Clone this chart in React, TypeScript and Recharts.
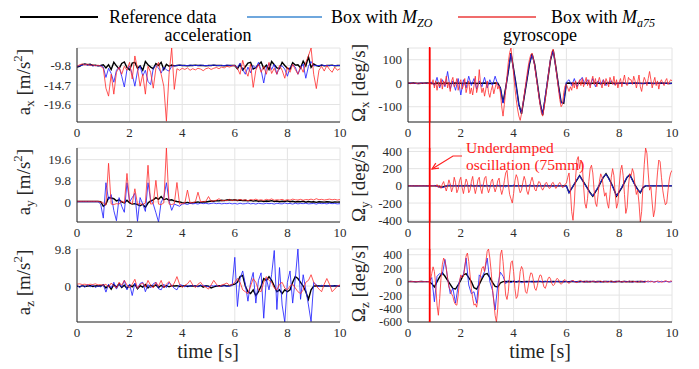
import { CartesianGrid, Line, LineChart, ReferenceLine, XAxis, YAxis } from "recharts";

// sample steps (s)
const DT = 0.1;
const DT_FINE = 0.05;
const X_TICKS = [0, 2, 4, 6, 8, 10];

// ---- acceleration x [m/s^2], dt 0.1
const axRef = [
  -10.2, -10.0, -9.6, -9.4, -9.6, -9.5, -9.8, -9.7, -9.9, -9.8, -9.6,
  -10.4, -9.6, -10.8, -9.0, -9.9, -10.6, -9.3, -8.9, -10.3, -10.9, -9.2, -9.0, -10.5, -9.9, -11.0, -8.8, -9.6, -10.2,
  -10.6, -9.3, -9.8, -9.0, -10.8, -9.5, -10.0, -9.7, -9.9,
  -9.8, -9.7, -9.8, -9.8, -9.9, -9.8, -9.8, -9.7, -9.8, -9.8, -9.8, -9.9, -9.8, -9.8, -9.7, -9.8, -9.8, -9.8, -9.9, -9.8, -9.8, -9.8,
  -9.8, -10.6, -9.5, -10.9, -10.1, -9.2, -9.0, -10.7, -10.3, -9.6, -8.9, -10.5, -9.7, -10.8, -8.8, -9.6, -10.4, -10.6, -9.0, -9.8,
  -10.5, -10.7, -9.1, -9.7, -9.6, -10.4, -8.7, -9.9, -7.6, -10.3, -9.4, -9.8, -10.0, -9.7, -9.9, -9.8, -9.8, -9.7, -9.9, -9.8, -9.8,
];
const axZo = [
  -10.0, -9.9, -9.7, -9.5, -9.7, -9.6, -9.9, -9.8, -9.9, -9.8, -10.2,
  -12.8, -10.5, -11.8, -14.0, -11.0, -10.2, -12.5, -15.2, -10.8, -9.9, -12.0, -15.0, -11.2, -10.0, -12.4, -11.0, -13.8, -14.6,
  -10.5, -9.8, -10.4, -11.7, -10.2, -10.9, -11.2, -10.0, -9.9,
  -9.8, -9.7, -9.8, -9.8, -9.8, -9.7, -9.8, -9.8, -9.8, -9.7, -9.8, -9.8, -9.8, -9.8, -9.7, -9.8, -9.8, -9.8, -9.8, -9.7, -9.8, -9.8,
  -9.8, -10.3, -9.2, -10.8, -12.0, -10.2, -11.6, -9.8, -10.5, -9.0, -11.0, -14.2, -10.4, -9.3, -10.8, -9.5, -12.0, -10.1, -9.9, -10.7,
  -12.5, -10.3, -9.6, -10.2, -12.0, -10.5, -9.4, -13.0, -10.0, -8.8, -9.9, -9.8, -9.8, -9.7, -9.8, -9.8, -9.8, -9.8, -9.8, -9.8, -9.8,
];
const axA75 = [
  -10.0, -9.6, -9.4, -9.7, -9.5, -9.8, -9.6, -9.9, -9.7, -10.0, -10.5,
  -15.5, -17.5, -12.0, -17.0, -11.5, -10.2, -12.0, -10.0, -11.0, -9.0, -13.2, -7.4, -10.5, -15.0, -12.0, -17.0, -10.0, -11.5,
  -15.5, -10.5, -9.0, -12.0, -15.0, -23.8, -12.0, -5.4, -15.8, -10.6, -11.0, -10.5,
  -10.8, -10.4, -11.0, -10.6, -10.9, -10.5, -10.7, -11.1, -10.6, -10.4, -10.8, -10.5, -10.3, -10.6, -10.2, -10.4, -10.0, -10.2, -9.9,
  -9.8, -10.5, -12.0, -8.5, -11.0, -12.5, -9.5, -15.3, -11.0, -9.5, -11.5, -10.0, -12.0, -9.0, -11.8, -10.5, -12.0, -9.8, -11.0, -13.0,
  -10.2, -11.5, -9.5, -10.8, -12.0, -10.0, -11.5, -9.0, -7.4, -5.4, -12.0, -15.6, -11.0, -10.0, -11.2, -9.8, -10.8, -11.5, -10.2, -11.0, -10.6,
];

// ---- acceleration y
const ayRef = [
  0.2, 0.2, 0.2, 0.2, 0.2, 0.2, 0.2, 0.2, 0.2, 0.1,
  -2.0, -1.0, 2.0, 1.8, 1.5, 0.5, 1.0, 0.0, -0.5, 0.8, -0.5, -1.0, -0.8, -1.2, -1.8, -1.0, -2.5, -0.5, 0.5, 1.0,
  2.0, 1.2, 2.5, 1.0, 1.5, 0.8, 1.0, 0.5, 0.2, 0.0,
  -0.3, -0.5, -0.2, -0.6, -0.4, -0.2, 0.0, -0.3, 0.1, 0.0, 0.2, 0.4, 0.3, 0.6, 0.5, 0.8, 0.6, 0.9, 1.0, 0.8,
  1.0, 0.7, 0.9, 0.6, 0.8, 0.5, 0.7, 0.4, 0.6, 0.3, 0.5, 0.2, 0.4, 0.3, 0.6, 0.2, 0.4, 0.1, 0.3, 0.2,
  0.5, 0.1, 0.3, 0.0, 0.2, 0.1, 0.3, -0.1, 0.2, 0.0, 0.1, -0.2, 0.1, 0.0, -0.1, 0.1, 0.0, -0.2, 0.0, -0.1, 0.0,
];
const ayZo = [
  0.1, 0.1, 0.1, 0.1, 0.1, 0.1, 0.1, 0.1, 0.1,
  -1.0, -7.5, 8.9, 1.0, 3.4, -4.0, -8.7, 2.0, -2.0, -4.8, 8.9, 0.0, 2.0, 4.0, -9.0, 2.0, -1.0, -4.4, 8.9, 1.0,
  -1.0, -5.0, -9.3, 0.0, 2.0, 8.9, 0.5, -3.9, -1.0, -1.5, -2.0,
  -1.0, -0.8, -1.2, -0.6, -0.9, -0.7, -1.0, -0.5, -0.8, -0.6, -0.9, -0.7, -0.5, -0.8, -0.6, -0.9, -0.7, -0.8, -0.6, -0.9,
  -0.7, -1.0, -0.6, -0.9, -0.8, -0.5, -0.9, -0.7, -1.0, -0.6, -0.8, -0.9, -0.6, -0.8, -0.7, -1.0, -0.6, -0.8, -0.9, -0.5,
  -0.8, -0.7, -1.0, -0.6, -0.9, -0.7, -0.8, -0.6, -0.9, -0.8, -0.7, -1.0, -0.6, -0.8, -0.7, -0.9, -0.6, -0.8, -0.7, -0.9, -0.8,
];
const ayA75 = [
  0.3, 0.3, 0.3, 0.3, 0.3, 0.3, 0.3, 0.3, 0.3, 0.0,
  -0.5, -1.5, 17.9, -1.0, -1.2, -0.8, -1.0, 0.5, -0.5, 13.2, 0.0, -1.0, 6.1, -1.0, -0.8, -1.2, -0.5, 17.0, -1.0, -0.8,
  10.0, -1.0, -1.2, -0.5, 25.0, -1.0, -1.2, -0.8, 9.0, -1.0, -0.8, -0.5, 5.5, -0.5, -0.3, 0.0, 4.5, 0.0, 0.2, 0.3,
  2.5, 0.3, 0.5, 0.8, 1.5, 0.5, 0.8, 0.6, 1.2, 0.6,
  1.0, 0.7, 1.2, 0.8, 1.0, 0.6, 1.1, 0.9, 1.3, 0.8, 1.0, 0.7, 1.2, 0.9, 1.4, 0.8, 1.0, 0.9, 1.2, 0.7,
  1.1, 0.8, 1.3, 1.0, 0.9, 1.2, 0.8, 1.1, 1.0, 1.3, 0.9, 1.5, 1.0, 1.2, 0.9, 1.1, 1.3, 1.0, 1.2, 0.9, 1.1,
];

// ---- acceleration z
const azRef = [
  0.0, -0.2, 0.1, -0.1, 0.0, 0.1, -0.1, 0.0, 0.1, 0.0,
  0.3, -0.5, 0.2, -0.8, 0.4, -0.3, 0.6, -0.4, 0.2, -0.6, 0.3, -0.2, 0.5, -0.7, 0.1, -0.3, 0.4, -0.5, 0.2, -0.1,
  0.3, -0.4, 0.2, -0.3, 0.1, -0.2, 0.1, 0.0, 0.1, -0.1, 0.0, 0.1, -0.1, 0.0, 0.1, 0.0, -0.1, 0.2, -0.3, 0.1,
  0.0, -0.5, -0.2, 0.0, 0.1, 0.0, 0.2, 0.0, 0.1, 0.3,
  0.5, 1.0, 2.5, 2.8, 0.0, -1.5, -2.0, -1.0, -2.5, -1.5, 0.0, 2.0, 1.5, 2.5, 1.5, 0.0, -1.5, -1.0, -2.0, -1.0,
  -1.5, -1.0, 1.0, 2.5, 2.0, 1.0, 0.0, -1.5, -3.5, -1.0, 0.0, 0.1, 0.0, 0.0, 0.1, 0.0, 0.0, 0.0, 0.1, 0.0, 0.0,
];
const azZo = [
  0.3, -0.4, 0.2, -0.3, 0.4, -0.2, 0.3, -0.4, 0.1, -0.2,
  0.4, -1.6, 0.5, -0.5, 1.0, -0.8, 0.6, -0.3, 1.5, -1.0, 0.5, -2.5, 0.8, -0.6, 0.7, 1.0, -1.5, 0.4, -0.5, 0.6,
  1.0, -0.7, -1.0, 0.5, -0.4, 1.0, 0.2, -0.6, -1.0, 0.4,
  0.2, -0.2, 0.1, -0.1, 0.2, 0.0, -0.1, 0.1, 0.2, 0.0, -0.2, 0.1, 0.0, 0.2, -0.1, 0.0, 0.1, -0.1, 0.0, 0.1,
  7.6, -5.4, 2.0, 4.0, 0.5, -4.0, 1.0, 3.6, -4.5, 1.5, 3.5, -8.5, 2.0, -1.0, 3.0, 9.4, -6.2, 4.9, -5.0, -9.5,
  1.0, 4.0, -4.5, 2.0, 9.8, -3.5, 3.0, -1.0, -5.0, -9.4, 1.0, 0.3, -0.2, 0.2, 0.0, 0.1, -0.1, 0.1, 0.0, 0.1, 0.0,
];
const azA75 = [
  0.5, 0.6, 0.4, 0.5, 0.3, 0.5, 0.4, 0.6, 0.3, 0.4,
  0.2, 0.5, -0.3, 0.8, 0.0, -0.5, 1.0, 0.2, 1.5, 0.3, -0.5, 0.5, 1.8, -0.6, 0.4, 0.8, -0.3, 1.5, 0.2, -0.5,
  1.0, 0.0, 1.5, -0.5, 0.5, 1.2, -0.2, 0.8, 2.5, 0.5, -0.4, 0.2, 0.6, 1.5, 0.3, -0.4, 0.5, 1.0, 0.0, -0.3,
  -0.8, 0.3, 1.5, 0.5, -0.2, 0.3, 0.5, 0.8, 0.2, 0.4,
  1.0, 2.0, 1.0, -1.0, -1.5, -2.0, 0.0, 2.0, 1.0, -1.0, -1.5, 1.0, 2.5, 1.5, 1.0, -0.5, -1.0, 0.5, 1.0, -0.5,
  -1.0, 0.0, 0.5, -0.5, -1.5, -2.0, -1.0, 1.0, 1.5, 3.0, 1.0, 0.0, -0.8, -1.5, 0.5, 2.0, 0.5, -1.5, -0.8, 0.0, 0.3,
];

// ---- gyroscope x [deg/s]
const gxRef = [
  0, 0, 1, 0, -1, 0, 0, 1, 0, 0, -2, 1, 0, -1, 1, 0, -1, 0, 1, 0, 0, -1, 1, 0, 0, 1, -1, 0, 0, 1, 0, -1, 0, 1, 0,
  -20, -83, -20, 50, 128, 60, -10, -90, -130, -60, 10, 80, 125, 80, 0, -80, -136, -60, 20, 100, 142, 70, -10, -80, -85,
  0, 1, 0, -1, 0, 0, 1, 0, 0, -1, 0, 1, 0, -1, 0, 0, 1, 0, 0, -1, 0, 1, 0, -1, 0, 0, 1, 0, 0, -1,
  0, 1, 0, -1, 0, 0, 1, 0, 0, -1, 0,
];
const gxZo = [
  0, 1, 0, -1, 0, 1, 0, 0, -1,
  5, -10, 25, -20, 15, -15, 50, -25, 10, -30, 20, -50, 15, -20, 30, -10, 20, -25, 10, -15, 25, -20, 15, -10, 30, -5,
  -20, -85, -25, 55, 125, 55, -15, -95, -128, -55, 15, 85, 122, 75, -5, -85, -132, -55, 25, 105, 138, 65, -15, -85, -80,
  5, 15, -10, 20, -15, 10, 25, -5, 15, -10, 20, -15, 10, -5, 15, -10, 5, 10, -5, 0,
  0, 1, 0, -1, 0, 0, 1, 0, -1, 0, 0, 1, 0, 0, -1, 0, 1, 0, 0, -1, 0,
];
const gxA75 = [
  0, 2, -2, 1, -1, 2, 0, -2, 1, 0, -1, 2, -1, 0, 1, -2, 0, 1,
  -5, 15, -20, 10, -30, 5, -15, 20, -25, 10, -10, 30, -20, 5, -35, 10, 25, -15, -5, 20,
  -30, 0, 15, -25, -10, 20, -40, -15, 10, -45, -20, -50, -10, 30, -40, -15, 58, -5, -40, -20,
  -55, -25, 10, -40, -60, -30, -10, -45, -20, 5, -25, -10,
  -40, -100, -140, -90, -30, 30, 90, 130, 150, 100, 40, -20, -70, -110, -140, -158, -130, -90, -50, -10,
  30, 70, 100, 122, 128, 105, 70, 30, -10, -50, -90, -125, -140, -110, -70, -25, 20, 65, 105, 135,
  145, 110, 65, 20, -25, -70, -100, -90, -40, -10, -5,
  -20, -35, -15, -30, 5, -20, 10, -25, -5, 15, -10, 20, -15, 5, 25, -10, 15, -20, 10, 30,
  -5, 20, -15, 5, 25, 0, -20, 15, -10, 20, 5, -15, 25, 10, -5, 30, -10, 15, -20, 5,
  20, -15, 10, 35, 0, -10, 25, 15, 15, -5, 30, 10, -20, 5, 35, -15, -35, 0, 25, 10,
  -10, 20, 50, 15, -20, 5, 25, -10, 10, -25, 5, 15, 0, -10, 10, 20, -5, 5, 15, 10,
];

// ---- gyroscope y
const gyRef = [
  0, 0, 0, 0, 0, 0, 0, 0, 0, 0, 0, 0, -10, -15, -5, 0, 0, 0, 0, 0,
  0, 0, 0, 0, 0, 0, 0, 0, 0, 0, 0, 0, 0, 0, 0, 0, 0, 0, 0, 0,
  0, 0, 0, 0, 0, 0, 0, 0, 0, 0, 0, 0, 0, 0, 0, 0, 0, 0, 0, 0,
  0, -80, -30, 20, 70, 120, 70, 20, -30, -80, -120, -70, -20, 40, 100, 140, 90, 30, -40, -120,
  -70, -20, 40, 100, 130, 70, 10, -40, -80, -20, 0, 0, 0, 0, 0, 0, 0, 0, 0, 0, 0,
];
const gyZo = [
  0, 2, 0, -2, 0, 1, 0, -1, 0, 2,
  5, -8, -12, -20, -10, 5, 10, -5, 8, -10, 5, -8, 10, -5, 12, -10, 6, -8, 10, -5,
  8, -10, 5, -6, 10, -8, 5, -12, 8, -5, 10, -6, 8, -10, 5, -8, 12, -5, 6, -10,
  8, -5, 10, -6, 5, -8, 6, -5, 8, -10,
  0, -85, -30, 25, 75, 118, 65, 15, -35, -85, -118, -65, -15, 45, 105, 135, 85, 25, -45, -118,
  -65, -15, 45, 105, 128, 65, 5, -45, -78, -15, 5, -3, 2, -2, 3, 0, -2, 2, 0, -1, 1,
];
const gyA75 = [
  0, 3, -2, 1, -3, 2, 0, -1, 3, -2, 1, 0, -2, 2, -1, 3, -3, 1, 0, 2,
  0, -10, 15, -20, 10, -30, 20, 50, -10, -60, 0, 70, 20, -70, -20, 100, 40, -80, -40, 60,
  100, -20, -90, 0, 80, 40, -80, -50, 50, 110, -10, -90, -20, 70, 100, -30, -90, 10, 90, 110,
  -20, -80, -30, 50, 80, -10, -70, -20, 60, 90, -30, -100, -40, 60, 150, 180, 20, -100, -150, -200,
  -90, 60, 130, 90, -20, -80, -50, 40, 110, 60, -60, -100, -30, 50, 100, 40, -40, -60, 0, 50,
  40, -20, -50, -20, 30, 40, 0, -30, -20, 30, 40, 0, -30, -10, 20, 40, 10, -20, -10, 20, 30,
  100, 150, -50, -300, -400, -200, 100, 300, 340, 200, 300, 250, 0, -200, -260, -150, 50, 200, 240, 150,
  -50, -200, -240, -100, 50, 140, 100, -20, -120, -80, -200, -260, -100, 100, 200, 120, -100, -260, -200, 0,
  180, 240, 120, -100, -320, -250, 0, 140, 120, 200, 150, 0, -100, -50, -200, -420, -300, 0, 250, 440,
  380, 150, -50, -10, -200, -360, -280, -50, 150, 300, 280, 100, -50, -150, -220, -200, -50, 80, 150, 180,
];

// ---- gyroscope z
const gzRef = [
  0, 1, 0, -1, 0, 1, 0, 0, 0,
  -30, -80, 0, 70, 130, 80, 20, -40, -100, -110, -50, 20, 100, 120, 60, 0, -90, -110, -40, 40,
  110, 120, 60, -10, -70, -80, -20,
  0, 2, -2, 1, 0, -1, 2, 0, -2, 1, 0, 2, -2, 1, 0, -1, 2, 0, -2, 1, 0, 2, -2, 1, 0, -1, 2, 0, -2, 1,
  0, 2, -2, 1, 0, -1, 2, 0, -2, 1, 0, 2, -2, 1, 0, -1, 2, 0, -2, 1, 0, 1, -1, 0, 2,
];
const gzZo = [
  0, 2, -1, 0, 1, -2, 0, 1, 0,
  60, -300, 80, 120, 100, 330, 50, -180, -100, -320, -60, 70, 100, 350, -50, -180, -150, -320, 100, 60,
  150, 350, 0, -130, -420, -50, 140, 80, -30, 20, -20, 15, -10, 10, -15, 5, -10,
  5, -8, 6, -4, 10, -6, 3, -5, 8, -10, 6, -3, 5, -8, 4, -6, 10, -4, 2, -7,
  5, -9, 6, -3, 8, -5, 4, -10, 7, -2, 6, -8, 3, -5, 10, -6, 4, -3, 8, -12,
  6, -4, 9, -7, 3, -5, 8, -6, 4, -9, 5, -3, 6, -8, 2,
];
const gzA75 = [
  0, 2, -1, 0, 1, -2, 0, 1, -1, 0, 2, -1, 0, 1, -2, 0, 1,
  20, 120, 220, 150, -50, -350, -500, -250, 50, 250, 350, 300, 200, 50, -80, -120, -180, -220, -300, -340,
  -350, -200, 0, 100, 60, 80, 200, 380, 425, 300, 100, -100, -250, -350, -330, -380, -250, -50, 100, 200,
  225, 150, 300, 450, 485, 350, 150, -100, -300, -500, -600, -400, 0, 400, 470, 300, 50, -200, -265, -150,
  100, 280, 310, 150, -100, -250, -220, -50, 150, 225, 180, 0, -150, -175, -80, 50, 130, 120, 20, -100,
  -130, -60, 40, 100, 90, 0, -80, -100, -40, 40, 70, 40, -30, -60, -40, 20, 50, 30, -20, -40,
  -20, 20, 30, 10,
  -15, -25, -10, 10, 20, 5, -10, -15, 0, 10, 15, 0, -10, -5, 10, 5, -5, -10, 0, 5,
  10, 0, -5, -10, 5, 10, 0, -5, 5, 0, -10, -5, 5, 10, 0, -5, -10, 0, 5, 10,
  0, -5, 5, 0, -10, -5, 5, 10, 0, -5, 5, 0, -5, -10, 0, 5, 10, 5, -15, -5,
  5, 10, 0, -5, 5, -5, -10, 0, 10, 5, 0, -10, -5, 5, 15, 5, -5, 0, 10, 5,
];

const MARKER_T = 0.82; // red vertical marker [s]

type Pt = { t: number; v: number };
const toPts = (vals: number[], dt: number): Pt[] =>
  vals.map((v, i) => ({ t: Math.round(i * dt * 1000) / 1000, v }));

const FONT = '"Liberation Serif", "Times New Roman", Times, "DejaVu Serif", serif';
const C_REF = "#000000";
const C_ZO = "#2424ff";
const C_A75 = "#ff2a2a";
const C_MARK = "#ff0000";
const TICK = { fontSize: 13, fill: "#2b2b2b", fontFamily: FONT };
const AXIS = { stroke: "#262626" };

const MT = 8;
const XH = 22;
const YW = 40;

type Series = { pts: Pt[]; color: string; w: number; op: number };

function Panel(props: {
  left: number;
  top: number;
  width: number;
  height: number;
  ml: number;
  mr: number;
  domain: [number, number];
  ticks: number[];
  series: Series[];
  marker?: boolean;
  tickSize?: number;
}) {
  const { left, top, width, height, ml, mr, domain, ticks, series, marker, tickSize } = props;
  const yTick = tickSize ? { ...TICK, fontSize: tickSize } : TICK;
  return (
    <div style={{ position: "absolute", left, top: top - MT }}>
      <LineChart width={width} height={height + MT + XH} margin={{ top: MT, right: mr, bottom: 0, left: ml }}>
        <CartesianGrid stroke="#e4e4e4" />
        <XAxis
          dataKey="t"
          type="number"
          domain={[0, 10]}
          ticks={X_TICKS}
          allowDataOverflow
          height={XH}
          tick={TICK}
          tickLine={false}
          tickSize={4}
          tickMargin={2}
          axisLine={AXIS}
        />
        <YAxis
          type="number"
          domain={domain}
          ticks={ticks}
          interval={0}
          allowDataOverflow
          width={YW}
          tick={yTick}
          tickLine={false}
          tickSize={4}
          tickMargin={2}
          axisLine={AXIS}
        />
        {series.map((s, i) => (
          <Line
            key={i}
            data={s.pts}
            dataKey="v"
            type="linear"
            stroke={s.color}
            strokeWidth={s.w}
            strokeOpacity={s.op}
            dot={false}
            activeDot={false}
            isAnimationActive={false}
          />
        ))}
        {marker && <ReferenceLine x={MARKER_T} stroke={C_MARK} strokeWidth={1.5} />}
      </LineChart>
    </div>
  );
}

const trio = (ref: number[], zo: number[], a75: number[], dtRed: number): Series[] => [
  { pts: toPts(ref, DT), color: C_REF, w: 1.4, op: 1 },
  { pts: toPts(zo, DT), color: C_ZO, w: 1, op: 0.85 },
  { pts: toPts(a75, dtRed), color: C_A75, w: 1, op: 0.8 },
];

const ROW_TOP = [48, 148, 249];
const ROW_H = [74, 74, 73];
const L = { left: 0, width: 350, ml: 77 - YW, mr: 10 };
const R = { left: 340, width: 359, ml: 68 - YW, mr: 27 };

// marker line data for the overlay chart spanning the gyroscope column
const markerSpan = [
  { t: 0, v: 0 },
  { t: 10, v: 1 },
];

export default function App() {
  return (
    <div
      style={{
        position: "absolute",
        left: 0,
        top: 0,
        width: 699,
        height: 369,
        background: "#fff",
        fontFamily: FONT,
        overflow: "hidden",
      }}
    >
      <Panel {...L} top={ROW_TOP[0]} height={ROW_H[0]} domain={[-24, -5.4]} ticks={[-19.6, -14.7, -9.8]} series={trio(axRef, axZo, axA75, DT)} />
      <Panel {...L} top={ROW_TOP[1]} height={ROW_H[1]} domain={[-9.3, 25]} ticks={[0, 9.8, 19.6]} series={trio(ayRef, ayZo, ayA75, DT)} />
      <Panel {...L} top={ROW_TOP[2]} height={ROW_H[2]} domain={[-9.5, 9.8]} ticks={[0, 9.8]} series={trio(azRef, azZo, azA75, DT)} />
      <Panel {...R} top={ROW_TOP[0]} height={ROW_H[0]} domain={[-165, 150]} ticks={[-100, 0, 100]} series={trio(gxRef, gxZo, gxA75, DT_FINE)} marker />
      <Panel {...R} top={ROW_TOP[1]} height={ROW_H[1]} domain={[-420, 440]} ticks={[-400, -200, 0, 200, 400]} series={trio(gyRef, gyZo, gyA75, DT_FINE)} marker />
      <Panel {...R} top={ROW_TOP[2]} height={ROW_H[2]} domain={[-600, 485]} ticks={[-600, -400, -200, 0, 200, 400]} series={trio(gzRef, gzZo, gzA75, DT_FINE)} marker tickSize={12.5} />

      {/* red marker across the gaps between gyroscope panels */}
      <div style={{ position: "absolute", left: R.left, top: ROW_TOP[0] - 1 }}>
        <LineChart
          width={R.width}
          height={ROW_TOP[2] + ROW_H[2] - ROW_TOP[0] + 1}
          data={markerSpan}
          margin={{ top: 0, right: R.mr, bottom: 0, left: R.ml + YW }}
        >
          <XAxis dataKey="t" type="number" domain={[0, 10]} hide />
          <YAxis type="number" domain={[0, 1]} hide />
          <Line dataKey="v" stroke="none" dot={false} activeDot={false} isAnimationActive={false} />
          <ReferenceLine x={MARKER_T} stroke={C_MARK} strokeWidth={1.5} />
        </LineChart>
      </div>

      <svg width={699} height={369} style={{ position: "absolute", left: 0, top: 0, pointerEvents: "none" }} fontFamily={FONT}>
        {/* legend */}
        <line x1={20} x2={98} y1={17} y2={17} stroke="#000" strokeWidth={2} />
        <text x={109} y={23} fontSize={18}>Reference data</text>
        <line x1={247} x2={322} y1={17} y2={17} stroke="#6fa7dd" strokeWidth={2} />
        <text x={331} y={23} fontSize={18}>
          Box with <tspan fontStyle="italic">M</tspan>
          <tspan fontStyle="italic" fontSize={12} dy={4}>ZO</tspan>
        </text>
        <line x1={458} x2={536} y1={17} y2={17} stroke="#f06c6c" strokeWidth={2} />
        <text x={551} y={23} fontSize={18}>
          Box with <tspan fontStyle="italic">M</tspan>
          <tspan fontStyle="italic" fontSize={12} dy={4}>a75</tspan>
        </text>

        {/* titles */}
        <text x={208} y={41} fontSize={18} textAnchor="middle">acceleration</text>
        <text x={540} y={41} fontSize={18} textAnchor="middle">gyroscope</text>

        {/* y labels */}
        {["x", "y", "z"].map((s, i) => (
          <text key={"a" + s} transform={`translate(30,${ROW_TOP[i] + ROW_H[i] / 2 - 3}) rotate(-90)`} fontSize={19} textAnchor="middle" fill="#262626">
            a<tspan fontSize={13} dy={4}>{s}</tspan>
            <tspan dy={-4}> [m/s</tspan>
            <tspan fontSize={13} dy={-8}>2</tspan>
            <tspan dy={8}>]</tspan>
          </text>
        ))}
        {["x", "y", "z"].map((s, i) => (
          <text key={"g" + s} transform={`translate(365,${ROW_TOP[i] + ROW_H[i] / 2 - 2}) rotate(-90)`} fontSize={19} textAnchor="middle" fill="#262626">
            Ω<tspan fontSize={13} dy={4}>{s}</tspan>
            <tspan dy={-4}> [deg/s]</tspan>
          </text>
        ))}

        {/* x labels */}
        <text x={208} y={358} fontSize={20} textAnchor="middle" fill="#262626">time [s]</text>
        <text x={540} y={358} fontSize={20} textAnchor="middle" fill="#262626">time [s]</text>

        {/* annotation */}
        <text x={466} y={153} fontSize={15.5} fill="#ff2020">Underdamped</text>
        <text x={466} y={170} fontSize={15.5} fill="#ff2020">oscillation (75mm)</text>
        <polyline points="462,156 453,156 432,169" fill="none" stroke="#ff2020" strokeWidth={1.2} />
        <polyline points="439,168.2 432,169 435.8,163.1" fill="none" stroke="#ff2020" strokeWidth={1.2} />
      </svg>
    </div>
  );
}
